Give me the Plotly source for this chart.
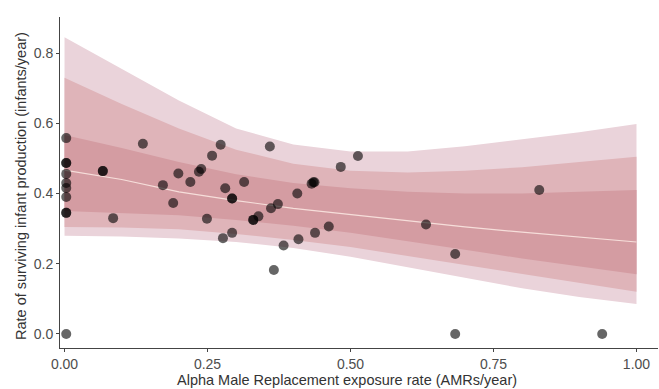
import plotly.graph_objects as go

# ---- data ----
band_x = [0.0, 0.1, 0.2, 0.3, 0.4, 0.5, 0.6, 0.7, 0.8, 0.9, 1.0]
fit_y = [0.467, 0.440, 0.405, 0.380, 0.358, 0.340, 0.322, 0.305, 0.290, 0.275, 0.262]
outer_hi = [0.845, 0.755, 0.665, 0.585, 0.540, 0.520, 0.520, 0.535, 0.555, 0.575, 0.598]
outer_lo = [0.280, 0.278, 0.272, 0.262, 0.245, 0.220, 0.190, 0.160, 0.130, 0.105, 0.085]
mid_hi = [0.730, 0.655, 0.585, 0.525, 0.485, 0.465, 0.460, 0.465, 0.475, 0.490, 0.505]
mid_lo = [0.305, 0.303, 0.298, 0.285, 0.268, 0.248, 0.222, 0.195, 0.170, 0.145, 0.120]
inner_hi = [0.567, 0.530, 0.490, 0.455, 0.430, 0.415, 0.405, 0.400, 0.400, 0.405, 0.410]
inner_lo = [0.350, 0.345, 0.338, 0.325, 0.308, 0.288, 0.265, 0.240, 0.215, 0.192, 0.170]

pts_x = [0.003, 0.003, 0.003, 0.003, 0.003, 0.003, 0.003, 0.003, 0.003,
         0.067, 0.067, 0.085, 0.137, 0.172, 0.190, 0.199, 0.220, 0.235, 0.239,
         0.249, 0.258, 0.273, 0.277, 0.281, 0.293, 0.293, 0.293, 0.314,
         0.330, 0.330, 0.339, 0.359, 0.361, 0.366, 0.373, 0.383, 0.407, 0.409,
         0.432, 0.435, 0.437, 0.438, 0.462, 0.483, 0.513, 0.632, 0.683, 0.683,
         0.830, 0.940, 0.003]
pts_y = [0.558, 0.487, 0.487, 0.456, 0.430, 0.416, 0.390, 0.345, 0.345,
         0.464, 0.464, 0.330, 0.542, 0.424, 0.373, 0.457, 0.433, 0.462, 0.470,
         0.328, 0.508, 0.539, 0.273, 0.415, 0.386, 0.386, 0.288, 0.433,
         0.325, 0.325, 0.335, 0.534, 0.358, 0.182, 0.370, 0.252, 0.400, 0.270,
         0.428, 0.432, 0.432, 0.288, 0.306, 0.476, 0.507, 0.312, 0.228, 0.0,
         0.410, 0.0, 0.0]

x_ticks = [0.0, 0.25, 0.5, 0.75, 1.0]
x_tick_text = ["0.00", "0.25", "0.50", "0.75", "1.00"]
y_ticks = [0.0, 0.2, 0.4, 0.6, 0.8]
y_tick_text = ["0.0", "0.2", "0.4", "0.6", "0.8"]

x_title = "Alpha Male Replacement exposure rate (AMRs/year)"
y_title = "Rate of surviving infant production (infants/year)"

fig = go.Figure()

def band(lo, hi, color):
    fig.add_trace(go.Scatter(x=band_x + band_x[::-1], y=hi + lo[::-1],
                             fill="toself", fillcolor=color, mode="lines",
                             line=dict(width=0), hoverinfo="skip", showlegend=False))

band(outer_lo, outer_hi, "rgb(234,211,218)")
band(mid_lo, mid_hi, "rgb(223,180,185)")
band(inner_lo, inner_hi, "rgb(212,156,162)")

fig.add_trace(go.Scatter(x=band_x, y=fit_y, mode="lines",
                         line=dict(color="rgb(246,222,218)", width=1.2),
                         showlegend=False))

fig.add_trace(go.Scatter(x=pts_x, y=pts_y, mode="markers",
                         marker=dict(color="rgba(0,0,0,0.6)", size=10, line=dict(width=0)),
                         showlegend=False))

axis_common = dict(showgrid=False, zeroline=False, showline=True, linecolor="#444",
                   linewidth=1, ticks="outside", ticklen=3, tickcolor="#444",
                   tickfont=dict(family="Liberation Sans, Arial", size=14, color="#4d4d4d"))

fig.update_layout(
    width=659, height=389,
    margin=dict(l=60, r=1, t=17, b=41),
    paper_bgcolor="white", plot_bgcolor="white",
    xaxis=dict(range=[-0.0079, 1.0376], tickvals=x_ticks, ticktext=x_tick_text, **axis_common),
    yaxis=dict(range=[-0.04, 0.903], tickvals=y_ticks, ticktext=y_tick_text, **axis_common),
    annotations=[
        dict(text=x_title, xref="paper", yref="paper", x=(347 - 60) / 598, y=(348 - 380.5) / 331,
             xanchor="center", yanchor="middle", showarrow=False,
             font=dict(family="Liberation Sans, Arial", size=14.5, color="#333")),
        dict(text=y_title, xref="paper", yref="paper", x=(21 - 60) / 598, y=(348 - 186) / 331,
             xanchor="center", yanchor="middle", textangle=-90, showarrow=False,
             font=dict(family="Liberation Sans, Arial", size=14.5, color="#333")),
    ],
)

fig.write_html("out.html")
